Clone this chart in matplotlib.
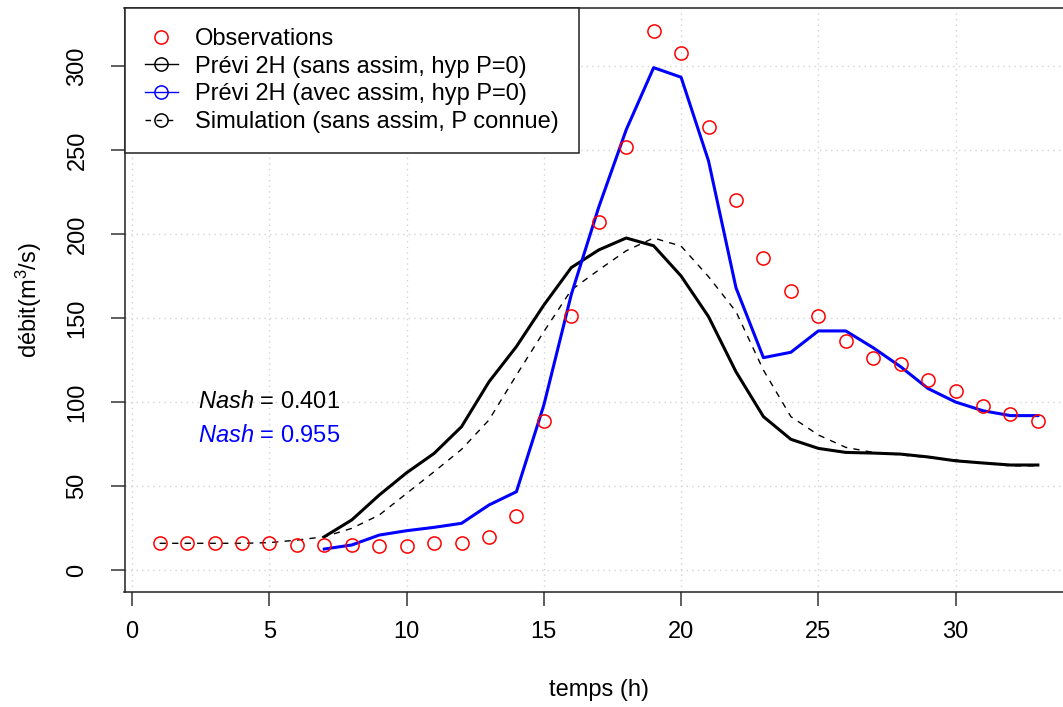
import numpy as np
import matplotlib
matplotlib.use('Agg')
import matplotlib.pyplot as plt
from matplotlib.lines import Line2D

plt.rcParams['font.family'] = ['Liberation Sans', 'DejaVu Sans']
plt.rcParams['mathtext.fontset'] = 'custom'
plt.rcParams['mathtext.rm'] = 'Liberation Sans'
plt.rcParams['mathtext.it'] = 'Liberation Sans:italic'

# time steps (h)
hours = np.arange(1, 34)
hours_forecast = np.arange(7, 34)

observations = [16, 16, 16, 16, 16, 15, 15, 15, 14.5, 14.5, 16, 16.3, 19.8, 32.1,
                88.7, 151, 207, 252, 321, 308, 263.5, 220, 186, 166, 151, 136.5,
                126, 122.5, 113, 106.5, 97.5, 93, 88.5]
previ_sans_assim = [19.8, 29.8, 44.6, 57.9, 69.4, 85.3, 112, 133, 157.7, 180, 190.5,
                    197.6, 193, 175, 150.8, 118, 91.3, 77.8, 72.4, 70, 69.6, 69,
                    67.3, 65, 63.7, 62.5, 62.5]
previ_avec_assim = [12.5, 14.9, 20.8, 23.4, 25.4, 27.8, 38.7, 46.6, 98.2, 164, 216,
                    262, 299, 293.3, 243.5, 168, 126.4, 129.6, 142.3, 142.3, 132.3,
                    121, 108, 100, 94.8, 91.9, 91.9]
simulation = [15.9, 15.9, 15.9, 15.9, 16.3, 17.8, 19.8, 24.8, 32.7, 45.6, 58.5, 71.8,
              89.3, 116, 141.9, 166.7, 178.6, 190, 197.6, 192.8, 174.6, 153.8, 119,
              91.3, 80.4, 73, 70, 68.5, 67, 65.5, 63.5, 62, 62]

nash_sans = 0.401
nash_avec = 0.955

FS = 17
W, H = 1063, 707
figure = plt.figure(figsize=(W / 100, H / 100), dpi=100)
# axes box in pixels: left 124.5, right 1073 (past the edge), top 8, bottom 591.7
axes = figure.add_axes([124.5 / W, (H - 591.7) / H, 948.5 / W, 583.7 / H])

axes.grid(color='#d3d3d3', linestyle=(0, (1, 3)), linewidth=1.0, zorder=0)
axes.plot(hours, simulation, color='black', linewidth=1.0, dashes=(4.5, 4.5), zorder=3)
axes.plot(hours_forecast, previ_sans_assim, color='black', linewidth=2.2, zorder=3)
axes.plot(hours_forecast, previ_avec_assim, color='blue', linewidth=2.2, zorder=4)
axes.plot(hours, observations, linestyle='none', marker='o', markersize=9.5,
          markerfacecolor='none', markeredgecolor='red', markeredgewidth=1.1, zorder=5)

axes.text(2.4, 100, r'$\mathit{Nash}$ = %.3f' % nash_sans, color='black',
          fontsize=FS, ha='left', va='center')
axes.text(2.4, 80, r'$\mathit{Nash}$ = %.3f' % nash_avec, color='blue',
          fontsize=FS, ha='left', va='center')

axes.set_xlim(-0.28, 34.28)
axes.set_ylim(-12.9, 334.5)
axes.set_xticks(np.arange(0, 31, 5))
axes.set_yticks(np.arange(0, 301, 50))
axes.tick_params(axis='both', direction='out', length=10, width=1.1, labelsize=FS,
                 color='#333333')
axes.tick_params(axis='x', pad=11)
axes.tick_params(axis='y', pad=16)
for label in axes.get_yticklabels():
    label.set_rotation(90)
    label.set_va('center')
for spine in axes.spines.values():
    spine.set_linewidth(1.1)
    spine.set_color('#222222')

axes.set_xlabel('temps (h)', fontsize=FS, va='center')
axes.xaxis.set_label_coords(0.5, -(690 - 591.7) / 583.7)
axes.set_ylabel('débit(m$^{3}$/s)', fontsize=FS, va='center')
axes.yaxis.set_label_coords(-(124.5 - 29) / 948.5, 0.5)

handles = [
    Line2D([], [], linestyle='none', marker='o', markersize=9.5, markerfacecolor='none',
           markeredgecolor='red', markeredgewidth=1.1),
    Line2D([], [], color='black', linewidth=1.0, marker='o', markersize=9.5,
           markerfacecolor='none', markeredgecolor='black', markeredgewidth=1.1),
    Line2D([], [], color='blue', linewidth=1.0, marker='o', markersize=9.5,
           markerfacecolor='none', markeredgecolor='blue', markeredgewidth=1.1),
    Line2D([], [], color='black', linewidth=1.0, dashes=(4, 4), marker='o', markersize=9.5,
           markerfacecolor='none', markeredgecolor='black', markeredgewidth=1.1),
]
labels = ['Observations', 'Prévi 2H (sans assim, hyp P=0)',
          'Prévi 2H (avec assim, hyp P=0)', 'Simulation (sans assim, P connue)']
legend = axes.legend(handles, labels, loc='upper left', bbox_to_anchor=(0, 1),
                     borderaxespad=0, fontsize=FS, fancybox=False, framealpha=1,
                     edgecolor='#222222', borderpad=0.85, labelspacing=0.24,
                     handlelength=1.4, handletextpad=0.75)
legend.get_frame().set_linewidth(1.1)
legend.set_zorder(10)

figure.savefig('out.png', dpi=100)
